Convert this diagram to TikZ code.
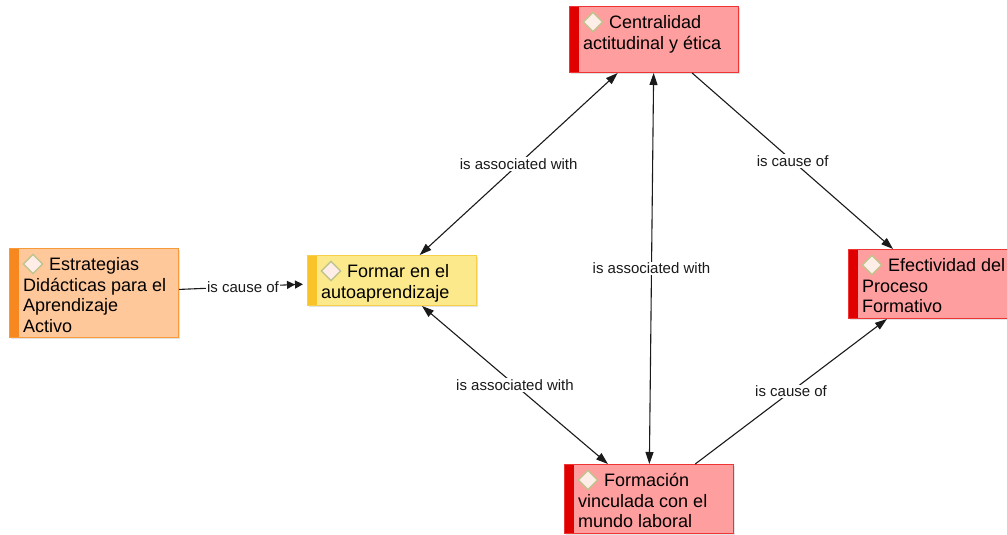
\documentclass[tikz,border=0pt]{standalone}
\usepackage{fontspec}
\setmainfont{Liberation Sans}
\usetikzlibrary{arrows.meta,shapes.geometric,shadows,calc}

% palette of the concept boxes
\definecolor{orfill}{HTML}{FFC89A}
\definecolor{ordraw}{HTML}{F79A3A}
\definecolor{orstripe}{HTML}{F7881F}
\definecolor{yefill}{HTML}{FCE98C}
\definecolor{yedraw}{HTML}{F6D04A}
\definecolor{yestripe}{HTML}{F8C42A}
\definecolor{refill}{HTML}{FF9E9E}
\definecolor{redraw}{HTML}{EE3434}
\definecolor{restripe}{HTML}{E00000}
\definecolor{iconline}{HTML}{BFC48C}
\definecolor{iconfill}{HTML}{FFEDE8}
\definecolor{linkcol}{HTML}{1A1A1A}

\tikzset{
  concept/.style={draw=#1draw, fill=#1fill, line width=1pt,
    minimum width=169pt, anchor=north west, inner sep=0pt,
    drop shadow={opacity=0.22, shadow xshift=1.5pt, shadow yshift=-1.5pt},
    path picture={\fill[#1stripe] (path picture bounding box.north west)
      rectangle ([xshift=9pt]path picture bounding box.south west);}},
  ctext/.style={anchor=north west, inner sep=0pt, align=left,
    font=\fontsize{18}{20.5}\selectfont, text=black},
  icon/.style={diamond, draw=iconline, fill=iconfill, line width=1.4pt,
    minimum width=20pt, minimum height=20pt, inner sep=0pt},
  lbl/.style={fill=white, inner sep=1pt, text=linkcol,
    font=\fontsize{15}{17}\selectfont},
  assoc/.style={draw=linkcol, line width=1.1pt,
    {Triangle[length=12pt,width=8pt]}-{Triangle[length=12pt,width=8pt]}},
  cause/.style={draw=linkcol, line width=1.1pt,
    -{Triangle[length=12pt,width=8pt]}},
}

\begin{document}
\begin{tikzpicture}[x=1pt,y=1pt]
\useasboundingbox (0,0) rectangle (1007,-535);
\clip (0,0) rectangle (1007,-535);

% concept boxes
\node[concept=or, minimum height=89pt] (estr) at (9,-248) {};
\node[concept=ye, minimum height=50pt] (form) at (307,-255) {};
\node[concept=re, minimum height=66pt] (cent) at (569,-6) {};
\node[concept=re, minimum height=69pt] (efec) at (848,-249) {};
\node[concept=re, minimum height=69pt] (fvml) at (564,-464) {};

% icons and texts of the boxes
\foreach \b in {estr,form,cent,efec,fvml}
  \node[icon] (\b-i) at ($(\b.north west)+(24,-16)$) {};

\node[ctext] (estr-t) at ($(estr.north west)+(14,-8)$)
  {\strut\hspace*{26pt}Estrategias\\Didácticas para el\\Aprendizaje\\Activo};
\node[ctext] (form-t) at ($(form.north west)+(14,-8)$)
  {\strut\hspace*{26pt}Formar en el\\autoaprendizaje};
\node[ctext] (cent-t) at ($(cent.north west)+(14,-8)$)
  {\strut\hspace*{26pt}Centralidad\\actitudinal y ética};
\node[ctext] (efec-t) at ($(efec.north west)+(14,-8)$)
  {\strut\hspace*{26pt}Efectividad del\\Proceso\\Formativo};
\node[ctext] (fvml-t) at ($(fvml.north west)+(14,-8)$)
  {\strut\hspace*{26pt}Formación\\vinculada con el\\mundo laboral};

% links
\draw[draw=linkcol, line width=1.1pt,
  -{Triangle[length=8pt,width=8pt]Triangle[length=8pt,width=8pt]}, shorten >=4pt]
  (estr) -- node[lbl]{is cause of} (form);
\draw[assoc] (form) -- node[lbl]{is associated with} (cent);
\draw[assoc] (cent) -- node[lbl]{is associated with} (fvml);
\draw[assoc] (form) -- node[lbl]{is associated with} (fvml);
\draw[cause] (cent) -- node[lbl]{is cause of} (efec);
\draw[cause] (fvml) -- node[lbl]{is cause of} (efec);
\end{tikzpicture}
\end{document}
